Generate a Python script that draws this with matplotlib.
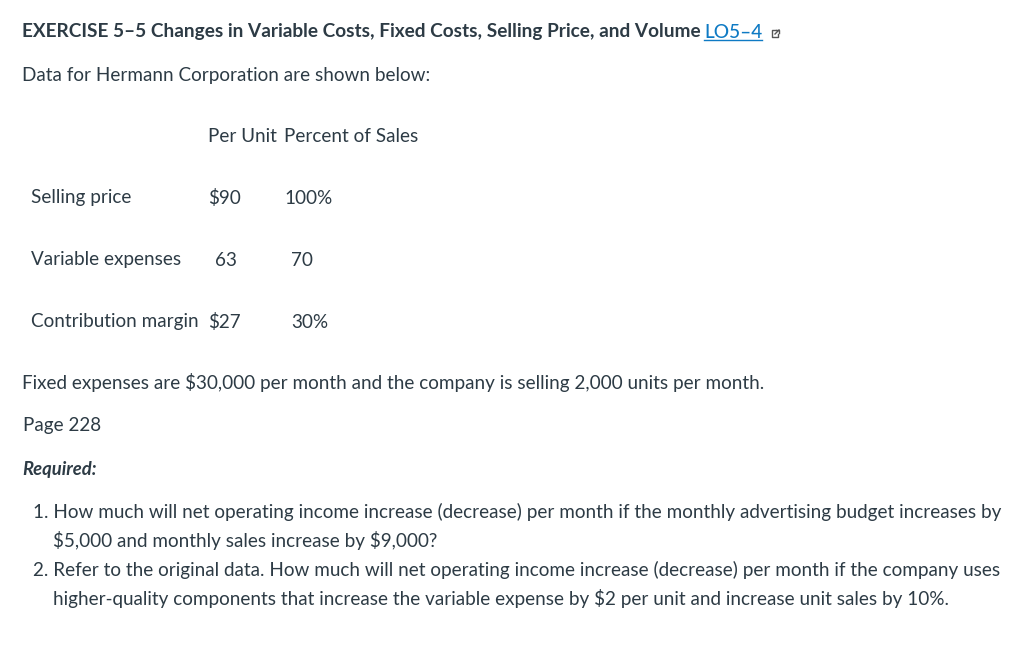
import matplotlib
matplotlib.use('Agg')
import matplotlib.pyplot as plt

plt.rcParams['font.family'] = ['Lato', 'DejaVu Sans']

title = "EXERCISE 5\u20135 Changes in Variable Costs, Fixed Costs, Selling Price, and Volume"
link = "LO5\u20134"
intro = "Data for Hermann Corporation are shown below:"

headers = ["Per Unit", "Percent of Sales"]
rows = ["Selling price", "Variable expenses", "Contribution margin"]
per_unit = ["$90", "63", "$27"]
percent = ["100%", "70", "30%"]

fixed = "Fixed expenses are $30,000 per month and the company is selling 2,000 units per month."
page = "Page 228"
required = "Required:"
q1 = ["1. How much will net operating income increase (decrease) per month if the monthly advertising budget increases by",
      "$5,000 and monthly sales increase by $9,000?"]
q2 = ["2. Refer to the original data. How much will net operating income increase (decrease) per month if the company uses",
      "higher-quality components that increase the variable expense by $2 per unit and increase unit sales by 10%."]

text_col = '#2d3b45'
link_col = '#0e7ac4'
fs = 13.55

fig = plt.figure(figsize=(10.24, 6.5), dpi=100)
ax = fig.add_axes([0, 0, 1, 1])
ax.set_xlim(0, 1024)
ax.set_ylim(650, 0)
ax.axis('off')


def put(x, y, s, **kw):
    kw.setdefault('color', text_col)
    kw.setdefault('fontsize', fs)
    return ax.text(x, y, s, va='center', parse_math=False, **kw)


put(22, 32, title, fontweight='bold', fontsize=13.7)
put(704, 32, link, color=link_col, fontweight='medium', fontsize=13.7)
ax.plot([704, 762], [40, 40], color=link_col, lw=1)

# small external link icon after the link
ax.plot([776, 772, 772, 778, 778], [30, 30, 37, 37, 34], color='#555555', lw=1)
ax.plot([775, 779], [34, 30], color='#555555', lw=1)
ax.plot([776, 779, 779], [30, 30, 33], color='#555555', lw=1)

put(22, 76, intro)

put(208, 136, headers[0])
put(284, 136, headers[1])

row_y = [198, 260, 322]
unit_x = [208, 215, 208]
pct_x = [284, 291, 291]
for i in range(3):
    put(31, row_y[i], rows[i])
    put(unit_x[i], row_y[i], per_unit[i])
    put(pct_x[i], row_y[i], percent[i])

put(22, 383, fixed)
put(23, 426, page)
put(22, 469, required, fontweight='bold', fontstyle='italic', fontsize=13.3)

put(33, 512, q1[0])
put(53, 541, q1[1])
put(33, 570, q2[0])
put(53, 599, q2[1])

fig.savefig('out.png', dpi=100)
